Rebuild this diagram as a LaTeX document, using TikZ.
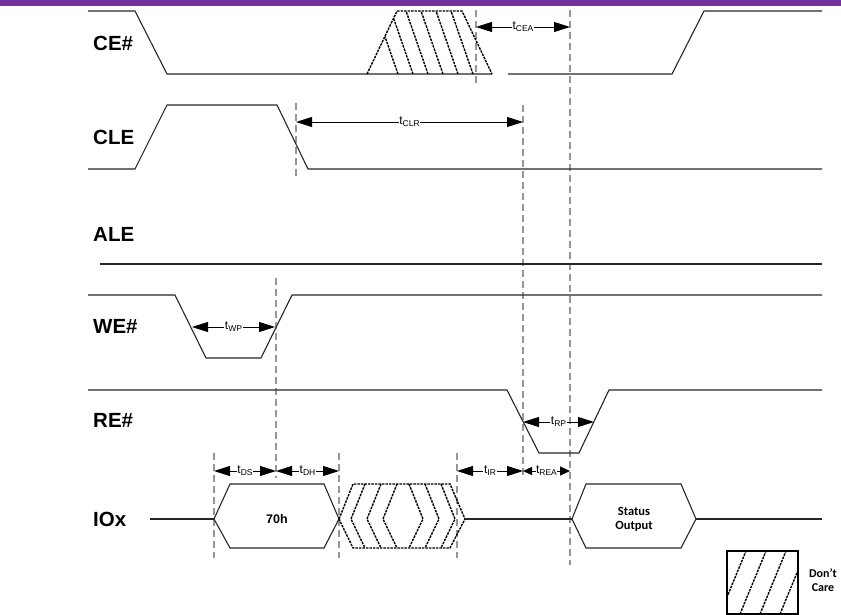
\documentclass[tikz,border=0pt]{standalone}
\usepackage{fontspec}
\setmainfont{Liberation Sans}
\newfontfamily\carlito{Carlito}
\usetikzlibrary{arrows.meta}
\definecolor{topbar}{HTML}{7030A0}
\definecolor{guidegray}{RGB}{150,150,150}
\newcommand{\tsub}[2]{#1\raisebox{-2.2pt}{\fontsize{8.5}{9}\selectfont #2}}
\begin{document}
\begin{tikzpicture}[x=1pt,y=-1pt,
  sig/.style={line width=1.1pt, draw=black!85, line join=miter},
  guide/.style={line width=1.8pt, draw=guidegray, dash pattern=on 7pt off 4pt},
  dc/.style={line width=1.4pt, draw=black, dash pattern=on 2.5pt off 1pt},
  tarr/.style={line width=0.9pt, {Triangle[length=16pt,width=10pt]}-{Triangle[length=16pt,width=10pt]}},
  sarr/.style={line width=0.9pt, {Triangle[length=9pt,width=8pt]}-{Triangle[length=10pt,width=9pt]}},
  tlab/.style={fill=white, inner sep=0.6pt, font=\fontsize{12}{13}\selectfont},
  sname/.style={font=\bfseries\fontsize{20.5}{23}\selectfont, anchor=west, inner sep=0pt},
  blab/.style={font=\carlito\bfseries\fontsize{12.5}{14}\selectfont, align=center, inner sep=0pt},
]
\useasboundingbox (0,0) rectangle (841,615);
\fill[topbar] (0,0) rectangle (841,6);

% signal names
\node[sname] (nce)  at (93,43)  {CE\#};
\node[sname] (ncle) at (93,137) {CLE};
\node[sname] (nale) at (93,234) {ALE};
\node[sname] (nwe)  at (93,326) {WE\#};
\node[sname] (nre)  at (93,420) {RE\#};
\node[sname] (nio)  at (93,519) {IOx};

% guide coordinates
\coordinate (g1t) at (476,10);  \coordinate (g1b) at (476,83);
\coordinate (g2t) at (570,10);  \coordinate (g2b) at (570,565);
\coordinate (g3t) at (296,103); \coordinate (g3b) at (296,178);
\coordinate (g4t) at (523,105); \coordinate (g4b) at (523,478);
\coordinate (g5t) at (276,278); \coordinate (g5b) at (276,478);
\coordinate (g6t) at (214,453); \coordinate (g6b) at (214,558);
\coordinate (g7t) at (339,453); \coordinate (g7b) at (339,558);
\coordinate (g8t) at (457,453); \coordinate (g8b) at (457,558);
\foreach \g in {1,...,8} \draw[guide] (g\g t) -- (g\g b);

% CE#
\draw[sig] (88,11) -- (135,11) -- (167,74) -- (492,74);
\draw[sig] (508,74) -- (672,74) -- (704,11) -- (822,11);
\begin{scope}
  \clip (367,74) -- (397,11) -- (462,11) -- (492,74) -- cycle;
  \foreach \b in {398,413,...,478} \draw[dc] (\b,74) -- (\b-22,11);
\end{scope}
\draw[dc] (367,74) -- (397,11) -- (462,11) -- (492,74);

% CLE
\draw[sig] (88,169) -- (135,169) -- (167,105) -- (277,105) -- (308,169) -- (822,169);
% ALE
\draw[sig] (100,264) -- (822,264);
% WE#
\draw[sig] (88,295) -- (175,295) -- (206,358) -- (261,358) -- (292,295) -- (822,295);
% RE#
\draw[sig] (88,390) -- (507,390) -- (539,453) -- (579,453) -- (609,390) -- (822,390);

% IOx
\draw[sig] (150,519) -- (214,519);
\draw[sig] (214,519) -- (230,484) -- (324,484) -- (339,519) -- (324,548) -- (230,548) -- cycle;
\node[font=\bfseries\fontsize{12.5}{14}\selectfont] (v70) at (277,519) {70h};
\draw[dc] (339,519) -- (353,484) -- (450,484) -- (465,519) -- (450,548) -- (353,548) -- cycle;
\foreach \p in {351,367,383} \draw[dc] (\p+14,484) -- (\p,519) -- (\p+14,548);
\foreach \p in {423,439,455} \draw[dc] (\p-14,484) -- (\p,519) -- (\p-14,548);
\draw[sig] (465,519) -- (572,519);
\draw[sig] (572,519) -- (586,484) -- (681,484) -- (696,519) -- (681,548) -- (586,548) -- cycle;
\draw[sig] (696,519) -- (822,519);
\node[blab] (vso) at (634,519) {Status\\Output};

% timing arrows
\coordinate (aCEa) at (476,27); \coordinate (aCEb) at (570,27);
\draw[tarr] (aCEa) -- node[tlab] {\tsub{t}{CEA}} (aCEb);
\coordinate (aCLa) at (296,122); \coordinate (aCLb) at (523,122);
\draw[tarr] (aCLa) -- node[tlab] {\tsub{t}{CLR}} (aCLb);
\coordinate (aWPa) at (192,327); \coordinate (aWPb) at (275,327);
\draw[tarr] (aWPa) -- node[tlab] {\tsub{t}{WP}} (aWPb);
\coordinate (aRPa) at (523,422); \coordinate (aRPb) at (594,422);
\draw[tarr] (aRPa) -- node[tlab] {\tsub{t}{RP}} (aRPb);
\coordinate (aDSa) at (214,471); \coordinate (aDSb) at (276,471);
\draw[tarr] (aDSa) -- node[tlab] {\tsub{t}{DS}} (aDSb);
\coordinate (aDHa) at (276,471); \coordinate (aDHb) at (339,471);
\draw[tarr] (aDHa) -- node[tlab] {\tsub{t}{DH}} (aDHb);
\coordinate (aIRa) at (457,471); \coordinate (aIRb) at (523,471);
\draw[tarr] (aIRa) -- node[tlab] {\tsub{t}{IR}} (aIRb);
\coordinate (aREa) at (523,471); \coordinate (aREb) at (570,471);
\draw[sarr] (aREa) -- node[tlab, inner sep=0pt] {\tsub{t}{REA}} (aREb);

% Don't care legend
\begin{scope}
  \clip (727,551) rectangle (798,614);
  \foreach \b in {700,720,...,800} \draw[dc] (\b,614) -- (\b+26,551);
\end{scope}
\draw[line width=1.1pt] (727,551) rectangle (798,614);
\node[blab, font=\carlito\bfseries\fontsize{12}{14}\selectfont] (vdc) at (823,580) {Don’t\\Care};
\end{tikzpicture}
\end{document}
